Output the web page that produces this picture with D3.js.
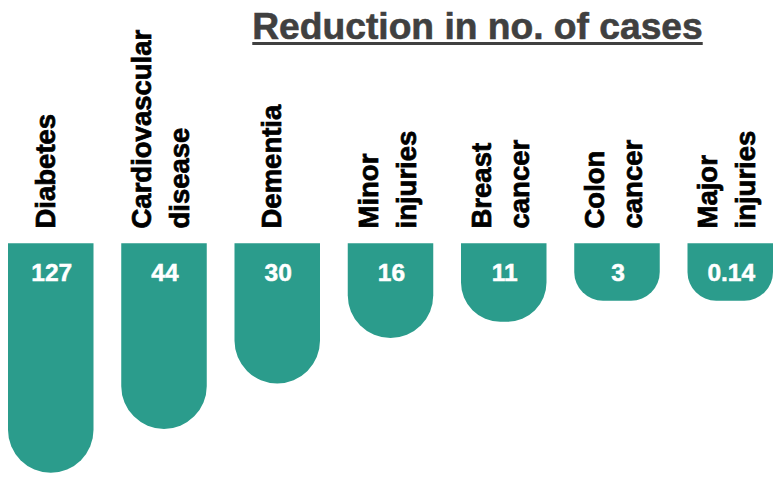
<!DOCTYPE html>
<html>
<head>
<meta charset="utf-8">
<script src="https://cdn.jsdelivr.net/npm/d3@7"></script>
<style>
  html, body { margin: 0; padding: 0; background: #ffffff; }
  svg { display: block; }
  text { font-family: "Liberation Sans", Arial, Helvetica, sans-serif; font-weight: bold; }
</style>
</head>
<body>
<svg id="chart" width="775" height="478"></svg>
<script>
// ---- data ----
const categories = ["Diabetes", "Cardiovascular disease", "Dementia", "Minor injuries", "Breast cancer", "Colon cancer", "Major injuries"];
const labelLines = [["Diabetes"], ["Cardiovascular", "disease"], ["Dementia"], ["Minor", "injuries"], ["Breast", "cancer"], ["Colon", "cancer"], ["Major", "injuries"]];
const values = [127, 44, 30, 16, 11, 3, 0.14];
const valueLabels = ["127", "44", "30", "16", "11", "3", "0.14"];
const title = "Reduction in no. of cases";

// ---- layout ----
const barTop = 243.3;
const svg = d3.select("#chart");
const teal = "#2b9c8c";

const x = d3.scaleBand().domain(categories).range([8, 773]).paddingInner(0.245).paddingOuter(0);
// illustrative (clamped) length scale for the hanging bars
const y = d3.scaleLinear().domain([4.5, 57.5]).range([barTop + 57.4, barTop + 229.4]).clamp(true);

const data = categories.map((c, i) => ({ c, v: values[i], lbl: valueLabels[i], lines: labelLines[i] }));

function barPath(x0, w, y0, y1) {
  const h = y1 - y0;
  const r = Math.min(w / 2, h / 2);
  const p = d3.path();
  p.moveTo(x0, y0);
  p.lineTo(x0 + w, y0);
  p.lineTo(x0 + w, y1 - r);
  p.arcTo(x0 + w, y1, x0 + w - r, y1, r);
  p.lineTo(x0 + r, y1);
  p.arcTo(x0, y1, x0, y1 - r, r);
  p.closePath();
  return p.toString();
}

// bars
svg.append("g").selectAll("path").data(data).join("path")
  .attr("d", d => barPath(x(d.c), x.bandwidth(), barTop, y(d.v)))
  .attr("fill", teal);

// value labels
svg.append("g").selectAll("text").data(data).join("text")
  .attr("x", d => x(d.c) + x.bandwidth() / 2 + 1)
  .attr("y", barTop + 38)
  .attr("text-anchor", "middle")
  .attr("font-size", 24.5)
  .attr("fill", "#ffffff")
  .attr("stroke", "#ffffff")
  .attr("stroke-width", 0.5)
  .text(d => d.lbl);

// category labels (rotated)
const lg = svg.append("g").selectAll("g").data(data).join("g")
  .attr("transform", d => `translate(${x(d.c) + x.bandwidth() / 2},228.5) rotate(-90)`);
lg.each(function (d) {
  const g = d3.select(this);
  const offs = d.lines.length === 1 ? [4] : [-13, 25];
  d.lines.forEach((t, k) => {
    g.append("text")
      .attr("x", 0)
      .attr("y", offs[k])
      .attr("text-anchor", "start")
      .attr("font-size", 27.5)
      .attr("fill", "#000000")
      .attr("stroke", "#000000")
      .attr("stroke-width", 0.7)
      .text(t);
  });
});

// title with underline
const tx = 477.5;
const tt = svg.append("text")
  .attr("x", tx)
  .attr("y", 39.3)
  .attr("text-anchor", "middle")
  .attr("font-size", 37.2)
  .attr("fill", "#404040")
  .attr("stroke", "#404040")
  .attr("stroke-width", 0.6)
  .text(title);
const tw = tt.node().getComputedTextLength();
svg.append("line")
  .attr("x1", tx - tw / 2).attr("x2", tx + tw / 2)
  .attr("y1", 43.5).attr("y2", 43.5)
  .attr("stroke", "#404040").attr("stroke-width", 3);
</script>
</body>
</html>
